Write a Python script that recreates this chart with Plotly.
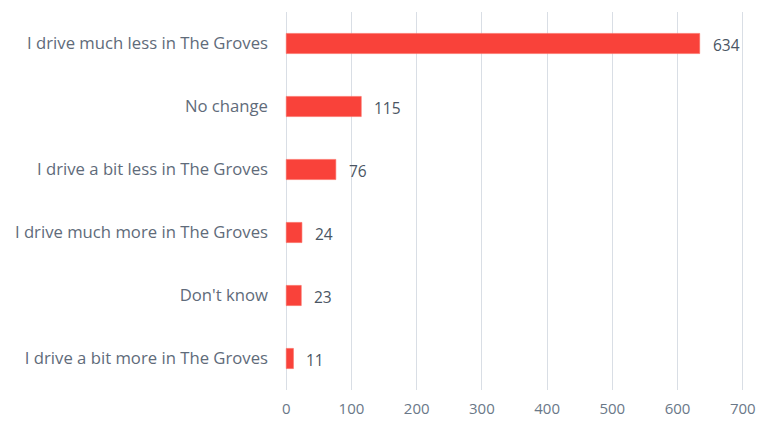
import plotly.graph_objects as go

categories = [
    "I drive much less in The Groves",
    "No change",
    "I drive a bit less in The Groves",
    "I drive much more in The Groves",
    "Don't know",
    "I drive a bit more in The Groves",
]
values = [634, 115, 76, 24, 23, 11]
x_ticks = [0, 100, 200, 300, 400, 500, 600, 700]

bar_color = "#F9423A"
label_color = "#5F6B7A"

fig = go.Figure()
fig.add_trace(go.Bar(
    y=categories,
    x=values,
    orientation="h",
    marker=dict(color=bar_color, line=dict(color="#FB6A60", width=0.6)),
    width=0.32,
    hoverinfo="skip",
))

for c, v in zip(categories, values):
    fig.add_annotation(
        x=v, y=c, text=str(v), showarrow=False,
        xanchor="left", xshift=11, yshift=-1,
        font=dict(family="Open Sans", size=15.5, color="#4A5563"),
    )

fig.update_layout(
    width=760, height=421,
    margin=dict(l=283, r=14, t=12, b=31, autoexpand=False),
    paper_bgcolor="white",
    plot_bgcolor="white",
    showlegend=False,
    font=dict(family="Open Sans", size=14, color=label_color),
)
fig.update_xaxes(
    range=[-5, 705],
    tickvals=x_ticks,
    showgrid=True,
    gridcolor="#D9DEE5",
    gridwidth=1,
    zeroline=False,
    showline=False,
    ticks="",
    automargin=False,
    ticklabelstandoff=8,
    tickfont=dict(family="Open Sans", size=15, color="#6A7888"),
)
fig.update_yaxes(
    categoryorder="array",
    categoryarray=categories[::-1],
    showgrid=False,
    zeroline=False,
    showline=False,
    ticks="",
    automargin=False,
    ticklabelstandoff=14,
    tickfont=dict(family="Open Sans", size=16.7, color=label_color),
)

fig.write_html(
    "out.html",
    config={"displayModeBar": False},
    post_script="document.body.style.margin='0';",
)
